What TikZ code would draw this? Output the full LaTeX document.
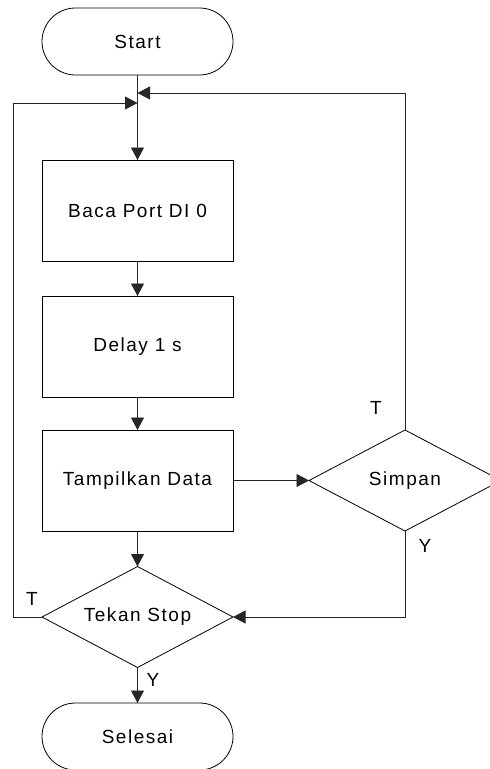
\documentclass[tikz,border=0pt]{standalone}
\usepackage{fontspec}
\setmainfont{Liberation Sans}[LetterSpace=8]
\usetikzlibrary{shapes.geometric,shapes.misc,arrows.meta}
\tikzset{
  base/.style={draw=black, line width=0.8pt, inner sep=0pt, outer sep=0pt, font=\fontsize{19}{21}\selectfont},
  term/.style={base, rounded rectangle, minimum width=191pt, minimum height=67pt},
  proc/.style={base, rectangle, minimum width=191pt, minimum height=101pt},
  dec/.style={base, diamond, aspect=1.89, minimum width=191pt, minimum height=101pt},
  flow/.style={line width=0.8pt, draw=black!85, -{Triangle[length=12.5pt,width=13pt]}},
  lbl/.style={font=\fontsize{19}{21}\selectfont, inner sep=0pt}
}
\begin{document}
\begin{tikzpicture}[x=1pt,y=-1pt]
\clip (0,0) rectangle (490,769);
\fill[white] (0,0) rectangle (490,769);
\node[term] (start) at (137.5,41.5) {Start};
\node[proc] (b1) at (137.5,210.5) {Baca Port DI 0};
\node[proc] (b2) at (137.5,346.5) {Delay 1 s};
\node[proc] (b3) at (137.5,480.5) {Tampilkan Data};
\node[dec] (d1) at (137.5,617) {Tekan Stop};
\node[dec, minimum width=192pt] (d2) at (405,480.5) {Simpan};
\node[term] (end) at (137.5,736.5) {Selesai};
\coordinate (j1) at (137.5,93);
\coordinate (j2) at (137.5,103);
\coordinate (lc) at (13,617);
\draw[flow] (start) -- (b1);
\draw[flow] (b1) -- (b2);
\draw[flow] (b2) -- (b3);
\draw[flow] (b3) -- (d1);
\draw[flow] (b3.east) -- (d2.west);
\draw[flow] (d2.north) |- (j1);
\draw[flow] (d1.west) -- (lc) |- (j2);
\draw[flow] (d2.south) |- (d1.east);
\draw[flow] (d1.south) -- (end.north);
\node[lbl] (t1) at (376,408) {T};
\node[lbl] (y1) at (425,546) {Y};
\node[lbl] (t2) at (32,599) {T};
\node[lbl] (y2) at (153,680) {Y};
\end{tikzpicture}
\end{document}
